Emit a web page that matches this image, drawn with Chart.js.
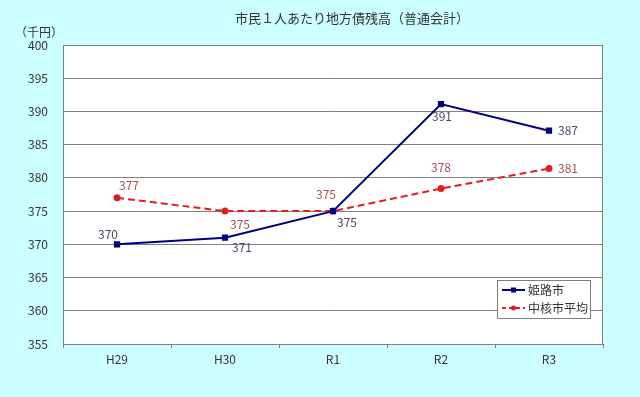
<!DOCTYPE html>
<html>
<head>
<meta charset="utf-8">
<script src="https://cdn.jsdelivr.net/npm/chart.js@4"></script>
<style>
  html, body { margin: 0; padding: 0; background: #ccffff; }
  #wrap { width: 640px; height: 397px; position: relative; }
</style>
</head>
<body>
<div id="wrap"><canvas id="chart"></canvas></div>
<script>
const years = ['H29', 'H30', 'R1', 'R2', 'R3'];
const himeji = [370.0, 371.0, 375.0, 391.1, 387.1];
const chukakuAvg = [377.0, 375.0, 375.0, 378.4, 381.4];
const himejiLabels = ['370', '371', '375', '391', '387'];
const chukakuLabels = ['377', '375', '375', '378', '381'];
const yTicks = [355, 360, 365, 370, 375, 380, 385, 390, 395, 400];

const FONT = '"Noto Sans CJK JP", "Noto Sans", sans-serif';

// label offsets (dx, dy) relative to each point
const himejiOffsets = [[-9, -10], [17, 10], [14, 11], [1, 12], [19, 0]];
const chukakuOffsets = [[12, -12], [15, 13], [-7, -17], [0, -21], [19, 0]];

const decor = {
    id: 'decor',
    beforeDraw(chart) {
        const { ctx, chartArea: a } = chart;
        ctx.save();
        ctx.fillStyle = '#ffffff';
        ctx.fillRect(a.left, a.top, a.right - a.left, a.bottom - a.top);
        ctx.restore();
    },
    afterDatasetsDraw(chart) {
        const { ctx, chartArea: a } = chart;
        ctx.save();
        // plot border
        ctx.strokeStyle = '#808080';
        ctx.lineWidth = 1;
        ctx.strokeRect(a.left + 0.5, a.top + 0.5, a.right - a.left - 1, a.bottom - a.top);

        // title and unit
        ctx.fillStyle = '#333333';
        ctx.font = '13px ' + FONT;
        ctx.textAlign = 'center';
        ctx.textBaseline = 'middle';
        ctx.fillText('市民１人あたり地方債残高（普通会計）', 352, 18);
        ctx.font = '12px ' + FONT;
        ctx.fillText('（千円）', 39, 32);

        // data labels
        ctx.font = '12px ' + FONT;
        const sets = [[0, himejiLabels, himejiOffsets, '#4a4a66'], [1, chukakuLabels, chukakuOffsets, '#a85050']];
        sets.forEach(([di, labels, offs, color]) => {
            const meta = chart.getDatasetMeta(di);
            ctx.fillStyle = color;
            meta.data.forEach((pt, i) => {
                ctx.fillText(labels[i], pt.x + offs[i][0], pt.y + offs[i][1]);
            });
        });

        // legend box
        const lx = 497, ly = 280, lw = 93, lh = 38;
        ctx.fillStyle = '#ffffff';
        ctx.fillRect(lx, ly, lw, lh);
        ctx.strokeStyle = '#808080';
        ctx.lineWidth = 1;
        ctx.strokeRect(lx + 0.5, ly + 0.5, lw, lh);
        const items = [
            ['姫路市', '#000080', [], 'rect'],
            ['中核市平均', '#e02020', [4, 3], 'circle']
        ];
        items.forEach(([txt, color, dash, shape], i) => {
            const y = ly + 10 + i * 18;
            ctx.strokeStyle = color;
            ctx.lineWidth = 2;
            ctx.setLineDash(dash);
            ctx.beginPath();
            ctx.moveTo(lx + 5, y);
            ctx.lineTo(lx + 28, y);
            ctx.stroke();
            ctx.setLineDash([]);
            ctx.fillStyle = color;
            if (shape === 'rect') {
                ctx.fillRect(lx + 14, y - 2.5, 5, 5);
            } else {
                ctx.beginPath();
                ctx.arc(lx + 16.5, y, 2.5, 0, Math.PI * 2);
                ctx.fill();
            }
            ctx.fillStyle = '#333333';
            ctx.font = '12px ' + FONT;
            ctx.textAlign = 'left';
            ctx.fillText(txt, lx + 31, y);
        });
        ctx.restore();
    }
};

new Chart(document.getElementById('chart'), {
    type: 'line',
    data: {
        labels: years,
        datasets: [
            {
                label: '姫路市',
                data: himeji,
                borderColor: '#000080',
                backgroundColor: '#000080',
                borderWidth: 2,
                pointStyle: 'rect',
                pointRadius: 3,
                tension: 0
            },
            {
                label: '中核市平均',
                data: chukakuAvg,
                borderColor: '#e02020',
                backgroundColor: '#e02020',
                borderWidth: 2,
                borderDash: [7, 4],
                pointStyle: 'circle',
                pointRadius: 2.5,
                tension: 0
            }
        ]
    },
    options: {
        responsive: true,
        maintainAspectRatio: false,
        animation: false,
        layout: { padding: { top: 45, right: 37, left: 0, bottom: 0 } },
        plugins: {
            legend: { display: false },
            tooltip: { enabled: false },
            title: { display: false }
        },
        scales: {
            x: {
                offset: true,
                afterFit: s => { s.height = 53; },
                grid: { offset: true, drawOnChartArea: false, drawTicks: true, tickLength: 4, color: '#808080' },
                border: { color: '#606060' },
                ticks: { color: '#333333', font: { size: 12, family: FONT }, padding: 4 }
            },
            y: {
                min: 355,
                max: 400,
                afterFit: s => { s.width = 63; },
                afterBuildTicks: s => { s.ticks = yTicks.map(v => ({ value: v })); },
                grid: { color: '#808080', drawTicks: false },
                border: { color: '#808080' },
                ticks: { color: '#333333', font: { size: 12, family: FONT }, padding: 15 }
            }
        }
    },
    plugins: [decor]
});
</script>
</body>
</html>
